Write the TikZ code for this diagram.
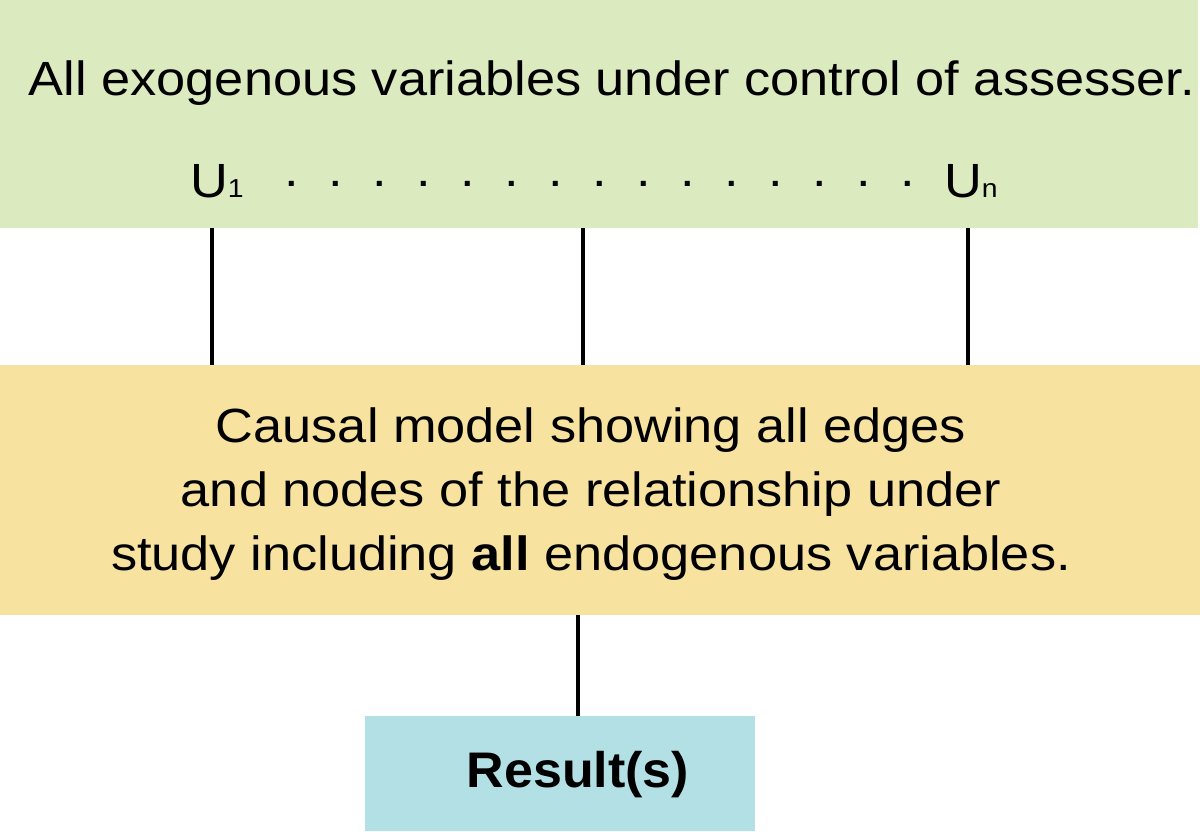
\documentclass[tikz,border=0pt]{standalone}
\usepackage{fontspec}
\setmainfont{Liberation Sans}
\newfontfamily\widefont[FakeStretch=1.09]{Liberation Sans}
\newfontfamily\resfont[FakeStretch=1.04]{Liberation Sans}
\definecolor{exogreen}{HTML}{DCEAC0}
\definecolor{causalorange}{HTML}{F7E2A0}
\definecolor{resultcyan}{HTML}{B2E0E4}
\begin{document}
\begin{tikzpicture}[x=0.5pt,y=-0.5pt,
  panel/.style={draw=none,inner sep=0pt,outer sep=0pt},
  txt/.style={inner sep=0pt,outer sep=0pt,font=\widefont\fontsize{24}{32}\selectfont},
  link/.style={line width=2pt,black}]
\useasboundingbox (0,0) rectangle (1200,831);
% panels
\path[fill=exogreen] (0,0) rectangle (1198,228);
\node[panel,minimum width=599pt,minimum height=114pt,anchor=north west] (green) at (0,0) {};
\path[fill=causalorange] (0,365) rectangle (1200,615);
\node[panel,minimum width=600pt,minimum height=125pt,anchor=north west] (orange) at (0,365) {};
\path[fill=resultcyan] (365,716) rectangle (755,831);
\node[panel,minimum width=195pt,minimum height=57.5pt,anchor=north west] (result) at (365,716) {};
% texts
\node[txt,anchor=base] (title) at (612,95) {All exogenous variables under control of assesser.};
\node[txt,anchor=base west] (u1) at (190,197) {U{\fontsize{13}{13}\selectfont 1}};
\node[txt,anchor=base west] (un) at (944,197) {U{\fontsize{13}{13}\selectfont n}};
\node[txt,anchor=base] (dots) at (600,186) {\foreach \i in {1,...,15}{\makebox[22pt]{.}}};
\node[txt,anchor=base,align=center] (causal) at (591,570)
  {Causal model showing all edges\\and nodes of the relationship under\\study including \textbf{all} endogenous variables.};
\node[txt,anchor=base,font=\resfont\fontsize{25}{30}\selectfont\bfseries] (restext) at (578,787) {Result(s)};
% connectors
\coordinate (a1) at (212,228); \coordinate (b1) at (212,365);
\coordinate (a2) at (583,228); \coordinate (b2) at (583,365);
\coordinate (a3) at (968,228); \coordinate (b3) at (968,365);
\draw[link] (green.south -| a1) -- (orange.north -| b1);
\draw[link] (green.south -| a2) -- (orange.north -| b2);
\draw[link] (green.south -| a3) -- (orange.north -| b3);
\coordinate (c) at (578,615);
\draw[link] (orange.south -| c) -- (result.north -| c);
\end{tikzpicture}
\end{document}
